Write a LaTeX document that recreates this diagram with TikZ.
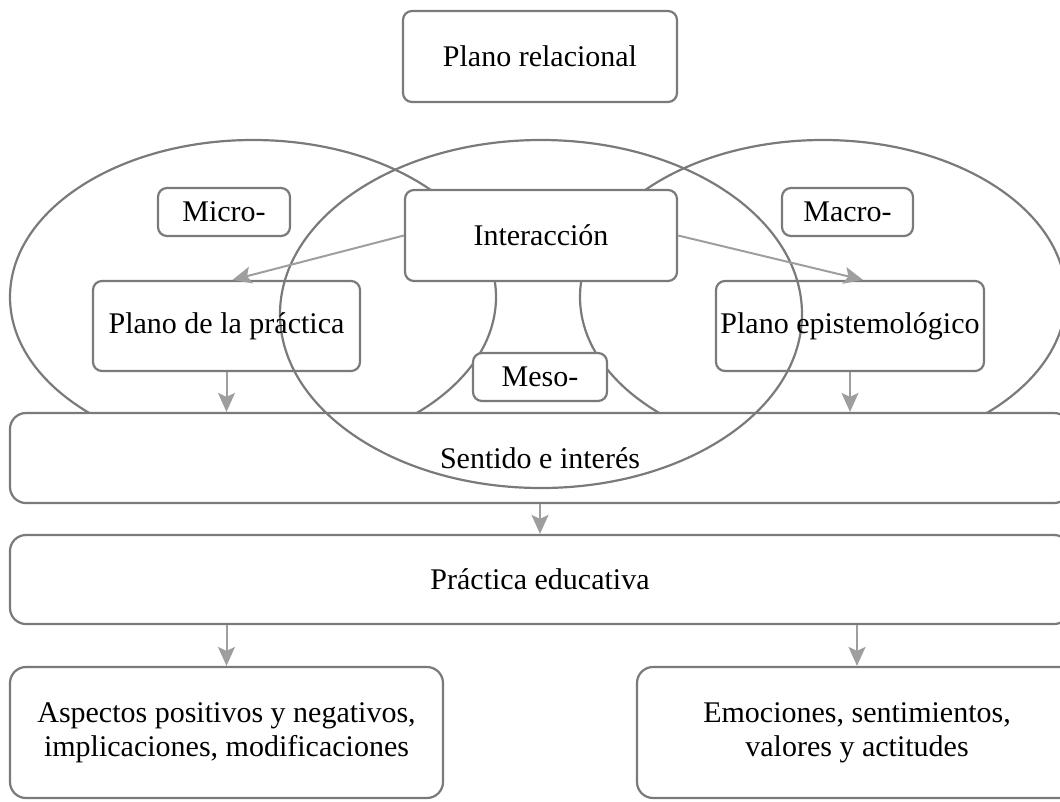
\documentclass[tikz,border=0pt]{standalone}
\usepackage{fontspec}
\setmainfont{Liberation Serif}
\usepackage{xcolor}
\usepackage{tikz}
\usetikzlibrary{arrows.meta,positioning,calc}

\definecolor{edge}{HTML}{7A7A7A}
\definecolor{arrowgray}{HTML}{9E9E9E}

\begin{document}
\begin{tikzpicture}[
  x=1pt, y=-1pt,
  font=\fontsize{30}{34}\selectfont,
  box/.style={draw=edge, line width=2.2pt, rounded corners=9pt, fill=white, align=center, inner sep=0pt},
  pane/.style={box, fill=none},
  wide/.style={box, rounded corners=16pt},
  ring/.style={draw=edge, line width=2.2pt},
  flow/.style={-{Stealth[length=19pt, width=17pt, inset=4pt]}, draw=arrowgray, line width=2pt},
]
\useasboundingbox (0,0) rectangle (1060,801);

\node[box, minimum width=274pt, minimum height=91pt] (rel) at (540,56.5) {Plano relacional};

\draw[ring] (253,297) ellipse [x radius=243, y radius=157];
\draw[ring] (823,297) ellipse [x radius=243, y radius=157];

\node[wide, minimum width=1060pt, minimum height=90pt] (sent) at (540,458) {Sentido e interés};

\draw[ring] (541,314) ellipse [x radius=261, y radius=174];

\node[box, minimum width=272pt, minimum height=91pt] (inter) at (541,235.5) {Interacción};
\node[box, minimum width=132pt, minimum height=48pt] (micro) at (224,212) {Micro-};
\node[box, minimum width=131pt, minimum height=48pt] (macro) at (847.5,212) {Macro-};
\node[pane, minimum width=267pt, minimum height=90pt] (pract) at (226.5,326) {Plano de la práctica};
\node[pane, minimum width=268pt, minimum height=90pt] (epist) at (850,326) {Plano epistemológico};
\node[box, minimum width=134pt, minimum height=48pt] (meso) at (540,377) {Meso-};

\node[wide, minimum width=1060pt, minimum height=89pt] (edu) at (540,579.5) {Práctica educativa};
\node[wide, minimum width=433pt, minimum height=131pt] (pos) at (226.5,732.5) {Aspectos positivos y negativos,\\implicaciones, modificaciones};
\node[wide, minimum width=440pt, minimum height=131pt] (emo) at (857,732.5) {Emociones, sentimientos,\\valores y actitudes};

\draw[flow] (inter.west) -- ([xshift=6pt]pract.north);
\draw[flow] (inter.east) -- ([xshift=13pt]epist.north);
\draw[flow] (pract.south) -- (pract.south |- sent.north);
\draw[flow] (epist.south) -- (epist.south |- sent.north);
\draw[flow] (sent.south) -- (edu.north);
\draw[flow] (pos.north |- edu.south) -- (pos.north);
\draw[flow] (emo.north |- edu.south) -- (emo.north);
\end{tikzpicture}
\end{document}
